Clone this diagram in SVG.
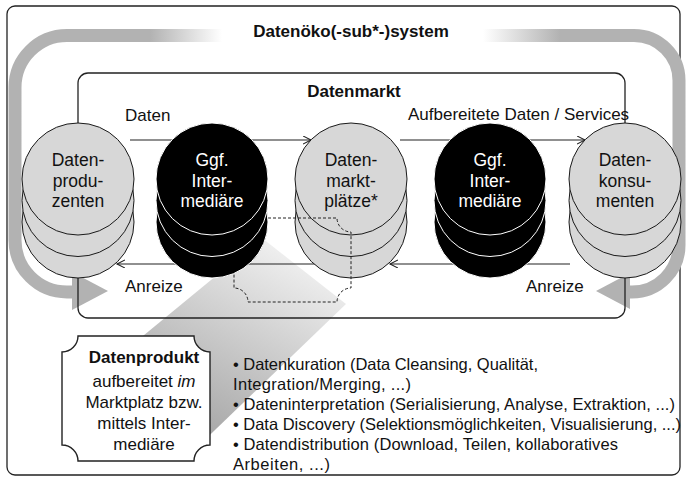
<svg xmlns="http://www.w3.org/2000/svg" width="686" height="478" viewBox="0 0 686 478">
<defs>
<style>
.t{font-family:"Liberation Sans",Arial,sans-serif;font-size:17px;fill:#111}
.b{font-weight:bold}
.m{text-anchor:middle}
.w{fill:#fff}
.ci{font-size:17.5px}
.li{font-size:16.5px}
.lc{fill:#d7d7d7;stroke:#1a1a1a;stroke-width:1}
.dc{fill:#000;stroke:#fff;stroke-width:1}
.con{fill:none;stroke:#222;stroke-width:1.2}
.band{fill:none;stroke-width:13}
</style>
<linearGradient id="gl" gradientUnits="userSpaceOnUse" x1="150" y1="0" x2="222" y2="0">
<stop offset="0" stop-color="#b2b2b2"/><stop offset="1" stop-color="#b2b2b2" stop-opacity="0"/>
</linearGradient>
<linearGradient id="gr" gradientUnits="userSpaceOnUse" x1="560" y1="0" x2="483" y2="0">
<stop offset="0" stop-color="#b2b2b2"/><stop offset="1" stop-color="#b2b2b2" stop-opacity="0"/>
</linearGradient>
<linearGradient id="gw" gradientUnits="userSpaceOnUse" x1="300" y1="250" x2="195" y2="440">
<stop offset="0" stop-color="#f2f2f2"/><stop offset="1" stop-color="#a4a4a4"/>
</linearGradient>
<marker id="ah" markerWidth="10" markerHeight="10" refX="8" refY="4" orient="auto" markerUnits="userSpaceOnUse">
<path d="M0,0 L8,4 L0,8" fill="none" stroke="#222" stroke-width="1.1"/>
</marker>
</defs>
<rect width="686" height="478" fill="#fff"/>

<g id="frame">
<rect x="7" y="6" width="673" height="469" rx="8" fill="none" stroke="#222" stroke-width="1.3"/>
</g>

<g id="cycle-arrows">
<path class="band" stroke="url(#gl)" d="M222 35.5 H67 A52 52 0 0 0 15 87.5 V240 A52 52 0 0 0 67 292 H74"/>
<polygon points="72,272 108,291 72,310" fill="#b2b2b2"/>
<path class="band" stroke="url(#gr)" d="M483 35.5 H634 A45 45 0 0 1 679 80.5 V245 A47 47 0 0 1 632 292 H628"/>
<polygon points="630,273 596,291 630,309" fill="#b2b2b2"/>
</g>

<g id="pointer">
<polygon points="262,238 346,304 188,456 132,345" fill="url(#gw)"/>
</g>

<g id="datenmarkt">
<rect x="78" y="73" width="547" height="245" rx="10" fill="none" stroke="#222" stroke-width="1.3"/>
<text class="t b m" x="354" y="97">Datenmarkt</text>
</g>

<g id="connectors">
<line class="con" x1="130" y1="140" x2="311" y2="140" marker-end="url(#ah)"/>
<line class="con" x1="400" y1="140" x2="585" y2="140" marker-end="url(#ah)"/>
<line class="con" x1="570" y1="264" x2="390" y2="264" marker-end="url(#ah)"/>
<line class="con" x1="351" y1="264" x2="117" y2="264" marker-end="url(#ah)"/>
<text class="t" x="125" y="121">Daten</text>
<text class="t" x="408" y="120">Aufbereitete Daten / Services</text>
<text class="t" x="125" y="292">Anreize</text>
<text class="t" x="526" y="292">Anreize</text>
</g>

<g id="produzenten">
<circle class="lc" cx="78" cy="222" r="56"/>
<circle class="lc" cx="78" cy="200.5" r="56"/>
<circle class="lc" cx="78" cy="179" r="56"/>
<text class="t ci m" x="78" y="166">Daten-</text>
<text class="t ci m" x="78" y="186.5">produ-</text>
<text class="t ci m" x="78" y="207">zenten</text>
</g>

<g id="marktplaetze">
<circle class="lc" cx="351" cy="222" r="56"/>
<circle class="lc" cx="351" cy="200.5" r="56"/>
<circle class="lc" cx="351" cy="179" r="56"/>
<text class="t ci m" x="351" y="166">Daten-</text>
<text class="t ci m" x="351" y="186.5">markt-</text>
<text class="t ci m" x="351" y="207">plätze*</text>
</g>

<g id="konsumenten">
<circle class="lc" cx="625" cy="222" r="56"/>
<circle class="lc" cx="625" cy="200.5" r="56"/>
<circle class="lc" cx="625" cy="179" r="56"/>
<text class="t ci m" x="625" y="166">Daten-</text>
<text class="t ci m" x="625" y="186.5">konsu-</text>
<text class="t ci m" x="625" y="207">menten</text>
</g>

<g id="datenprodukt-markierung">
<path d="M248 218 H337 A14 14 0 0 0 351 232 V288 A14 14 0 0 0 337 302 H248 A14 14 0 0 0 234 288 V232 A14 14 0 0 0 248 218 Z" fill="none" stroke="#222" stroke-width="1" stroke-dasharray="3 2"/>
</g>

<g id="intermediaere1">
<circle class="dc" cx="212" cy="222" r="56"/>
<circle class="dc" cx="212" cy="200.5" r="56"/>
<circle class="dc" cx="212" cy="179" r="56"/>
<text class="t ci m w" x="212" y="166">Ggf.</text>
<text class="t ci m w" x="212" y="186.5">Inter-</text>
<text class="t ci m w" x="212" y="207">mediäre</text>
</g>

<g id="intermediaere2">
<circle class="dc" cx="490" cy="222" r="56"/>
<circle class="dc" cx="490" cy="200.5" r="56"/>
<circle class="dc" cx="490" cy="179" r="56"/>
<text class="t ci m w" x="490" y="166">Ggf.</text>
<text class="t ci m w" x="490" y="186.5">Inter-</text>
<text class="t ci m w" x="490" y="207">mediäre</text>
</g>

<g id="titel">
<text class="t b m" x="351" y="37">Datenöko(-sub*-)system</text>
</g>

<g id="datenprodukt">
<path d="M78 336 H194 A16 16 0 0 0 210 352 V445 A16 16 0 0 0 194 461 H78 A16 16 0 0 0 62 445 V352 A16 16 0 0 0 78 336 Z" fill="#fff" stroke="#222" stroke-width="1.4"/>
<text class="t b m" x="144" y="363">Datenprodukt</text>
<text class="t m" x="144" y="387">aufbereitet <tspan font-style="italic">im</tspan></text>
<text class="t m" x="144" y="408">Marktplatz bzw.</text>
<text class="t m" x="144" y="429">mittels Inter-</text>
<text class="t m" x="144" y="450">mediäre</text>
</g>

<g id="liste">
<text class="t li" x="233" y="370" textLength="305" lengthAdjust="spacing">• Datenkuration (Data Cleansing, Qualität,</text>
<text class="t li" x="233" y="390" textLength="178" lengthAdjust="spacing">Integration/Merging, ...)</text>
<text class="t li" x="233" y="410" textLength="442" lengthAdjust="spacing">• Dateninterpretation (Serialisierung, Analyse, Extraktion, ...)</text>
<text class="t li" x="233" y="430" textLength="448" lengthAdjust="spacing">• Data Discovery (Selektionsmöglichkeiten, Visualisierung, ...)</text>
<text class="t li" x="233" y="450" textLength="385" lengthAdjust="spacing">• Datendistribution (Download, Teilen, kollaboratives</text>
<text class="t li" x="233" y="470" textLength="97" lengthAdjust="spacing">Arbeiten, ...)</text>
</g>
</svg>
